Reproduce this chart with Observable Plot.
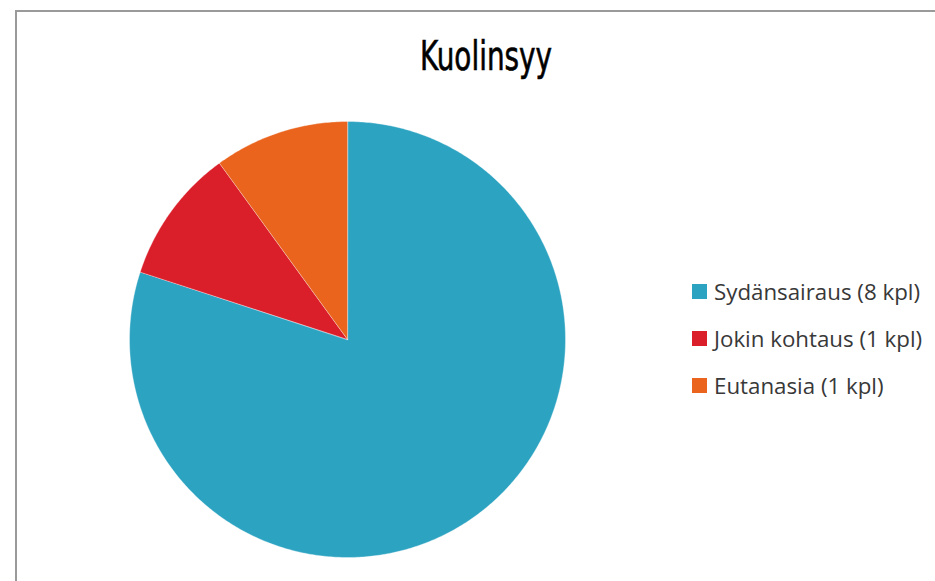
<!DOCTYPE html>
<html>
<head>
<meta charset="utf-8">
<script src="https://cdn.jsdelivr.net/npm/d3@7"></script>
<script src="https://cdn.jsdelivr.net/npm/@observablehq/plot@0.6"></script>
<style>
  html, body { margin: 0; padding: 0; background: #fff; width: 935px; height: 581px; overflow: hidden; }
  #frame { position: absolute; left: 15px; top: 10px; width: 1000px; height: 700px;
           border-left: 2px solid #9a9a9a; border-top: 2px solid #9a9a9a; }
  #title { position: absolute; left: 420px; top: 36px; }
  #title span { display: inline-block; font-family: "DejaVu Sans Condensed", "DejaVu Sans", sans-serif;
                font-size: 40px; color: #000; line-height: 1; transform-origin: left center;
                -webkit-text-stroke: 0.6px #000; }
  #chart { position: absolute; left: 0; top: 0; }
  #legend { position: absolute; left: 692px; top: 276px; font-family: "Open Sans", sans-serif; font-size: 22.3px; color: #383838; }
  .item { display: flex; align-items: center; height: 31px; margin-bottom: 16px; white-space: nowrap; }
  .sw { width: 15px; height: 15px; margin-right: 7px; flex: none; }
</style>
</head>
<body>
<div id="frame"></div>
<div id="chart"></div>
<div id="title"><span id="tt">Kuolinsyy</span></div>
<div id="legend"></div>
<script>
const title = "Kuolinsyy";
const categories = ["Sydänsairaus", "Jokin kohtaus", "Eutanasia"];
const values = [8, 1, 1];
const unit = "kpl";
const colors = ["#2ca3c1", "#da1f2b", "#ea641e"];

// slice geometry from d3.pie angles
const arcs = d3.pie().sort(null)(values);
const pts = [];
arcs.forEach((a, i) => {
  const cat = categories[i];
  pts.push({cat, x: 0, y: 0});
  const n = Math.max(8, Math.ceil((a.endAngle - a.startAngle) / 0.01));
  for (let k = 0; k <= n; k++) {
    const t = a.startAngle + (a.endAngle - a.startAngle) * k / n;
    pts.push({cat, x: Math.sin(t), y: Math.cos(t)});
  }
});

const plot = Plot.plot({
  width: 935,
  height: 581,
  margin: 0,
  style: {background: "transparent", overflow: "visible"},
  x: {domain: [-1, 1], range: [129, 565], axis: null},
  y: {domain: [-1, 1], range: [557, 121], axis: null},
  color: {domain: categories, range: colors},
  marks: [
    Plot.line(pts, {x: "x", y: "y", z: "cat", fill: "cat", stroke: "#ffffff", strokeWidth: 0.6, strokeOpacity: 0.6, curve: "linear-closed"})
  ]
});
document.getElementById("chart").appendChild(plot);

// title, fitted to a condensed look
const tt = document.getElementById("tt");
tt.textContent = title;
const w = tt.getBoundingClientRect().width;
tt.style.transform = `scaleX(${132 / w})`;

// legend
const lg = document.getElementById("legend");
categories.forEach((c, i) => {
  const d = document.createElement("div");
  d.className = "item";
  const s = document.createElement("div");
  s.className = "sw";
  s.style.background = colors[i];
  const t = document.createElement("span");
  t.textContent = `${c} (${values[i]} ${unit})`;
  d.appendChild(s); d.appendChild(t);
  lg.appendChild(d);
});
</script>
</body>
</html>
